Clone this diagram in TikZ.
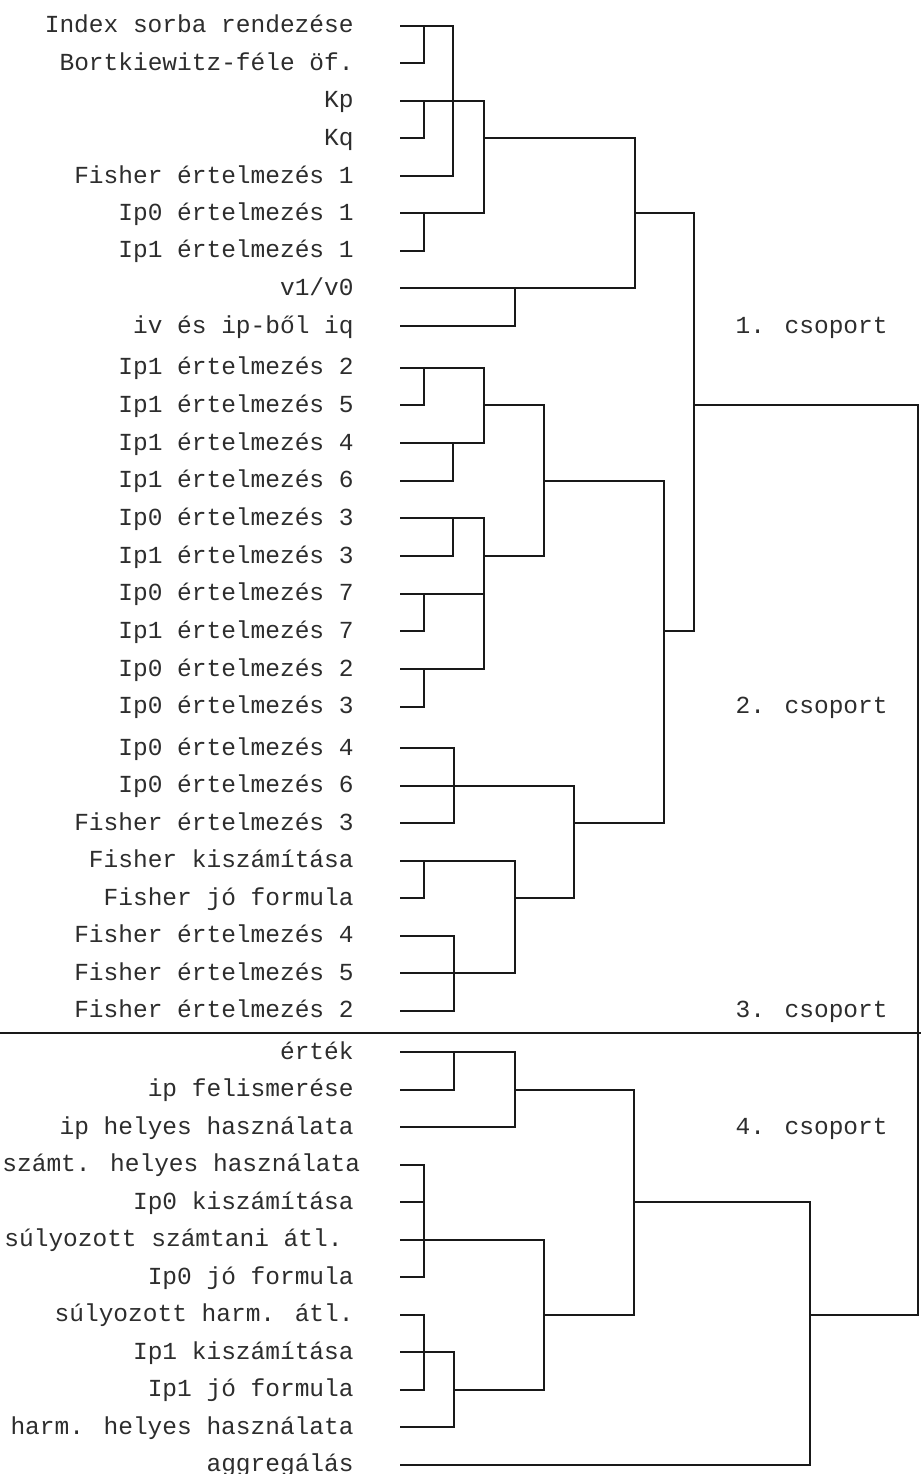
\documentclass[tikz,border=0pt]{standalone}
\usepackage{fontspec}
\newfontfamily\labfont{Liberation Mono}
\definecolor{linecol}{RGB}{25,25,25}
\definecolor{textcol}{RGB}{45,45,45}
\newcommand\hs[3]{\draw[dl] (#2,#1) -- (#3,#1);}
\newcommand\vs[3]{\draw[dl] (#1,#2) -- (#1,#3);}
\begin{document}
\begin{tikzpicture}[x=0.5pt,y=-0.5pt,
  lab/.style={anchor=base east,inner sep=0pt,text=textcol,font=\labfont\fontsize{12.25pt}{14pt}\selectfont},
  dl/.style={draw=linecol,line width=1pt,line cap=rect}]
\useasboundingbox[fill=white] (0,0) rectangle (921,1474);
% labels
\node[lab] (t1) at (354,32.7) {Index sorba rendezése};
\node[lab] (t2) at (354,70.3) {Bortkiewitz-féle öf.};
\node[lab] (t3) at (354,107.7) {Kp};
\node[lab] (t4) at (354,145.3) {Kq};
\node[lab] (t5) at (354,183) {Fisher értelmezés 1};
\node[lab] (t6) at (354,220.3) {Ip0 értelmezés 1};
\node[lab] (t7) at (354,257.7) {Ip1 értelmezés 1};
\node[lab] (t8) at (354,295.3) {v1/v0};
\node[lab] (t9) at (354,333) {iv és ip-ből iq};
\node[lab] (t10) at (354,374.7) {Ip1 értelmezés 2};
\node[lab] (t11) at (354,412.3) {Ip1 értelmezés 5};
\node[lab] (t12) at (354,450) {Ip1 értelmezés 4};
\node[lab] (t13) at (354,487.7) {Ip1 értelmezés 6};
\node[lab] (t14) at (354,525.3) {Ip0 értelmezés 3};
\node[lab] (t15) at (354,563) {Ip1 értelmezés 3};
\node[lab] (t16) at (354,600.7) {Ip0 értelmezés 7};
\node[lab] (t17) at (354,638.3) {Ip1 értelmezés 7};
\node[lab] (t18) at (354,676) {Ip0 értelmezés 2};
\node[lab] (t19) at (354,713.7) {Ip0 értelmezés 3};
\node[lab] (t20) at (354,755.3) {Ip0 értelmezés 4};
\node[lab] (t21) at (354,792.8) {Ip0 értelmezés 6};
\node[lab] (t22) at (354,830.3) {Fisher értelmezés 3};
\node[lab] (t23) at (354,867.8) {Fisher kiszámítása};
\node[lab] (t24) at (354,905.3) {Fisher jó formula};
\node[lab] (t25) at (354,942.8) {Fisher értelmezés 4};
\node[lab] (t26) at (354,980.3) {Fisher értelmezés 5};
\node[lab] (t27) at (354,1017.8) {Fisher értelmezés 2};
\node[lab] (t28) at (354,1059.3) {érték};
\node[lab] (t29) at (354,1096.8) {ip felismerése};
\node[lab] (t30) at (354,1134.3) {ip helyes használata};
\node[lab,anchor=base west] (t31) at (2,1171.8) {számt. helyes használata};
\node[lab] (t32) at (354,1209.3) {Ip0 kiszámítása};
\node[lab,anchor=base west] (t33) at (4,1246.8) {súlyozott számtani átl.};
\node[lab] (t34) at (354,1284.3) {Ip0 jó formula};
\node[lab] (t35) at (354,1321.8) {súlyozott harm. átl.};
\node[lab] (t36) at (354,1359.3) {Ip1 kiszámítása};
\node[lab] (t37) at (354,1396.8) {Ip1 jó formula};
\node[lab] (t38) at (354,1434.3) {harm. helyes használata};
\node[lab] (t39) at (354,1471.8) {aggregálás};
% group labels
\node[lab] (g1) at (888,333) {1. csoport};
\node[lab] (g2) at (888,713.7) {2. csoport};
\node[lab] (g3) at (888,1017.8) {3. csoport};
\node[lab] (g4) at (888,1134.3) {4. csoport};
% separator
\draw[dl,line cap=butt] (0,1033.3) -- (921,1033.3);
% group 1
\hs{25.7}{401}{453.3}
\vs{424}{25.7}{63.3}
\hs{63.3}{401}{424}
\vs{453.3}{25.7}{176}
\hs{100.7}{401}{484}
\vs{424}{100.7}{138.3}
\hs{138.3}{401}{424}
\hs{176}{401}{453.3}
\vs{484}{100.7}{213.3}
\hs{138.3}{484}{635}
\hs{213.3}{401}{484}
\vs{424}{213.3}{250.7}
\hs{250.7}{401}{424}
\vs{635}{138.3}{288.3}
\hs{213.3}{635}{694}
\hs{288.3}{401}{635}
\vs{515}{288.3}{326}
\hs{326}{401}{515}
\vs{694}{213.3}{631.3}
\hs{405.3}{694}{918}
\vs{918}{405.3}{1314.8}
% group 2
\hs{367.7}{401}{484}
\vs{424}{367.7}{405.3}
\hs{405.3}{401}{424}
\hs{405.3}{484}{544}
\vs{484}{367.7}{443}
\hs{443}{401}{484}
\vs{453.3}{443}{480.7}
\hs{480.7}{401}{453.3}
\hs{480.7}{544}{664}
\vs{544}{405.3}{556}
\hs{518.3}{401}{484}
\vs{453.3}{518.3}{556}
\hs{556}{401}{453.3}
\hs{556}{484}{544}
\vs{484}{518.3}{669}
\hs{593.7}{401}{484}
\vs{424}{593.7}{631.3}
\hs{631.3}{401}{424}
\hs{669}{401}{484}
\vs{424}{669}{706.7}
\hs{706.7}{401}{424}
\vs{664}{480.7}{823.3}
\hs{631.3}{664}{694}
% group 3
\hs{748.3}{401}{454}
\vs{454}{748.3}{823.3}
\hs{785.8}{401}{574}
\hs{823.3}{401}{454}
\hs{823.3}{574}{664}
\vs{574}{785.8}{898.3}
\hs{860.8}{401}{515}
\vs{424}{860.8}{898.3}
\hs{898.3}{401}{424}
\hs{898.3}{515}{574}
\vs{515}{860.8}{973.3}
\hs{935.8}{401}{454}
\vs{454}{935.8}{1010.8}
\hs{973.3}{401}{515}
\hs{1010.8}{401}{454}
% group 4
\hs{1052.3}{401}{515}
\vs{454}{1052.3}{1089.8}
\hs{1089.8}{401}{454}
\hs{1089.8}{515}{634}
\vs{515}{1052.3}{1127.3}
\hs{1127.3}{401}{515}
\vs{634}{1089.8}{1314.8}
\hs{1164.8}{401}{424}
\vs{424}{1164.8}{1277.3}
\hs{1202.3}{401}{424}
\hs{1202.3}{634}{810}
\hs{1239.8}{401}{544}
\hs{1277.3}{401}{424}
\vs{544}{1239.8}{1389.8}
\hs{1314.8}{544}{634}
\hs{1314.8}{401}{424}
\vs{424}{1314.8}{1389.8}
\hs{1352.3}{401}{454}
\vs{454}{1352.3}{1427.3}
\hs{1389.8}{401}{424}
\hs{1389.8}{454}{544}
\hs{1427.3}{401}{454}
\hs{1464.8}{401}{810}
\vs{810}{1202.3}{1464.8}
\hs{1314.8}{810}{918}
\end{tikzpicture}
\end{document}
